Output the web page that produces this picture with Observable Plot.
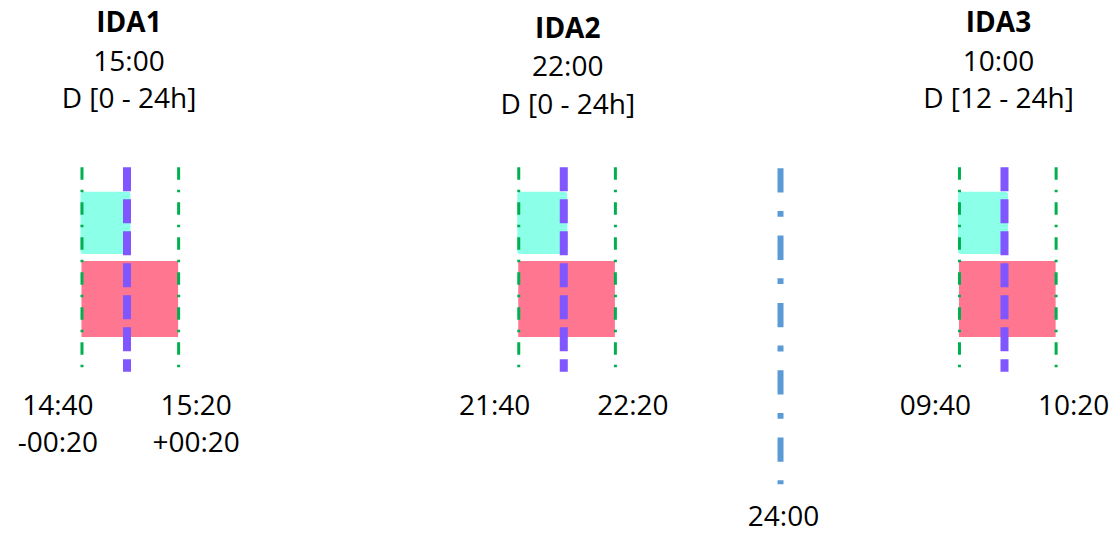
<!DOCTYPE html>
<html>
<head>
<meta charset="utf-8">
<script src="https://cdn.jsdelivr.net/npm/d3@7"></script>
<script src="https://cdn.jsdelivr.net/npm/@observablehq/plot@0.6"></script>
<style>
  html, body { margin: 0; padding: 0; background: #fff; }
  #chart svg { display: block; }
</style>
</head>
<body>
<div id="chart"></div>
<script>
// ---- data ----
const sessions = ["IDA1", "IDA2", "IDA3"];
const gateTimes = ["15:00", "22:00", "10:00"];
const deliveryRanges = ["D [0 - 24h]", "D [0 - 24h]", "D [12 - 24h]"];
const windowStartLabels = ["14:40", "21:40", "09:40"];
const windowEndLabels = ["15:20", "22:20", "10:20"];
const windowMinutes = 20;                  // ± window around gate time
const offsetLabels = ["-00:20", "+00:20"]; // shown under IDA1 only
const midnightLabel = "24:00";

// ---- layout (schematic) ----
const slotOf = {IDA1: 0, IDA2: 1.991, IDA3: 4};
const midnightSlot = 2.979;
const SLOT_MIN = 90.8;                     // schematic minutes between slots
const labelOffsetMin = 28.6;
const WINDOW_DX = 3.3;                     // window drawn slightly right of gate line
const titleShift = {IDA1: 0, IDA2: 5.5, IDA3: 0};
const titleNudge = {IDA1: 2, IDA2: 4, IDA3: -6};
const Y = {
  title: [23, 61.5, 99],
  lineTop: 167.3, greenBottom: 368.3, purpleBottom: 371.7,
  cyanTop: 191.8, cyanBottom: 254, redTop: 261, redBottom: 337,
  blueTop: 168.3, blueBottom: 484.3,
  label1: 406, label2: 443, midnight: 517
};

const cx = s => slotOf[s] * SLOT_MIN;

const rows = sessions.map((s, i) => ({
  s, c: cx(s), gate: gateTimes[i], range: deliveryRanges[i],
  start: windowStartLabels[i], end: windowEndLabels[i]
}));
const edges = rows.flatMap(r => [r.c - windowMinutes, r.c + windowMinutes]);
const titleRows = rows.flatMap(r => [
  {s: r.s, c: r.c, text: r.s, y: Y.title[0] + titleShift[r.s], bold: true},
  {s: r.s, c: r.c, text: r.gate, y: Y.title[1] + titleShift[r.s], bold: false},
  {s: r.s, c: r.c, text: r.range, y: Y.title[2] + titleShift[r.s], bold: false}
]);
const bottomLabels = rows.flatMap(r => [
  {x: r.c - labelOffsetMin, y: Y.label1, text: r.start},
  {x: r.c + labelOffsetMin, y: Y.label1, text: r.end}
]).concat([
  {x: rows[0].c - labelOffsetMin, y: Y.label2, text: offsetLabels[0]},
  {x: rows[0].c + labelOffsetMin, y: Y.label2, text: offsetLabels[1]}
]);

const FONT = 28;
const titleMarks = sessions.flatMap(s => [
  Plot.text(titleRows.filter(d => d.s === s && d.bold), {
    x: "c", y: "y", text: "text", fontSize: FONT, dx: titleNudge[s],
    fontWeight: "bold", fill: "#000"}),
  Plot.text(titleRows.filter(d => d.s === s && !d.bold), {
    x: "c", y: "y", text: "text", fontSize: FONT, dx: titleNudge[s], fill: "#000"})
]);

const plot = Plot.plot({
  width: 1116,
  height: 533,
  marginTop: 0, marginBottom: 0,
  marginLeft: 126.5, marginRight: 112,
  x: {domain: [0, 4 * SLOT_MIN], axis: null},
  y: {domain: [0, 533], range: [0, 533], axis: null},
  style: {fontFamily: "'Open Sans', sans-serif", background: "#fff", overflow: "visible"},
  marks: [
    Plot.rect(rows, {x1: d => d.c - windowMinutes, x2: d => d.c + windowMinutes,
      y1: Y.redTop, y2: Y.redBottom, fill: "#FF7690", dx: WINDOW_DX}),
    Plot.rect(rows, {x1: d => d.c - windowMinutes, x2: d => d.c,
      y1: Y.cyanTop, y2: Y.cyanBottom, fill: "#8BFFE7", dx: WINDOW_DX,
      insetRight: -0.7, insetLeft: -1, rx: 3}),
    Plot.ruleX(edges, {x: d => d, y1: Y.lineTop, y2: Y.greenBottom, dx: WINDOW_DX,
      stroke: "#00B050", strokeWidth: 3, strokeDasharray: "12.5,10,2.5,10"}),
    Plot.ruleX(rows, {x: "c", y1: Y.lineTop, y2: Y.purpleBottom,
      stroke: "#7F56FF", strokeWidth: 8, strokeDasharray: "24,8"}),
    Plot.ruleX([midnightSlot * SLOT_MIN], {x: d => d, y1: Y.blueTop, y2: Y.blueBottom,
      stroke: "#5B9BD5", strokeWidth: 6, strokeDasharray: "24.3,18.4,5.8,18.8"}),
    ...titleMarks,
    Plot.text(bottomLabels, {x: "x", y: "y", text: "text", fontSize: FONT, fill: "#000"}),
    Plot.text([midnightLabel], {x: () => midnightSlot * SLOT_MIN, y: Y.midnight,
      text: d => d, fontSize: FONT, dx: 3, fill: "#000"})
  ]
});
document.getElementById("chart").appendChild(plot);
</script>
</body>
</html>
